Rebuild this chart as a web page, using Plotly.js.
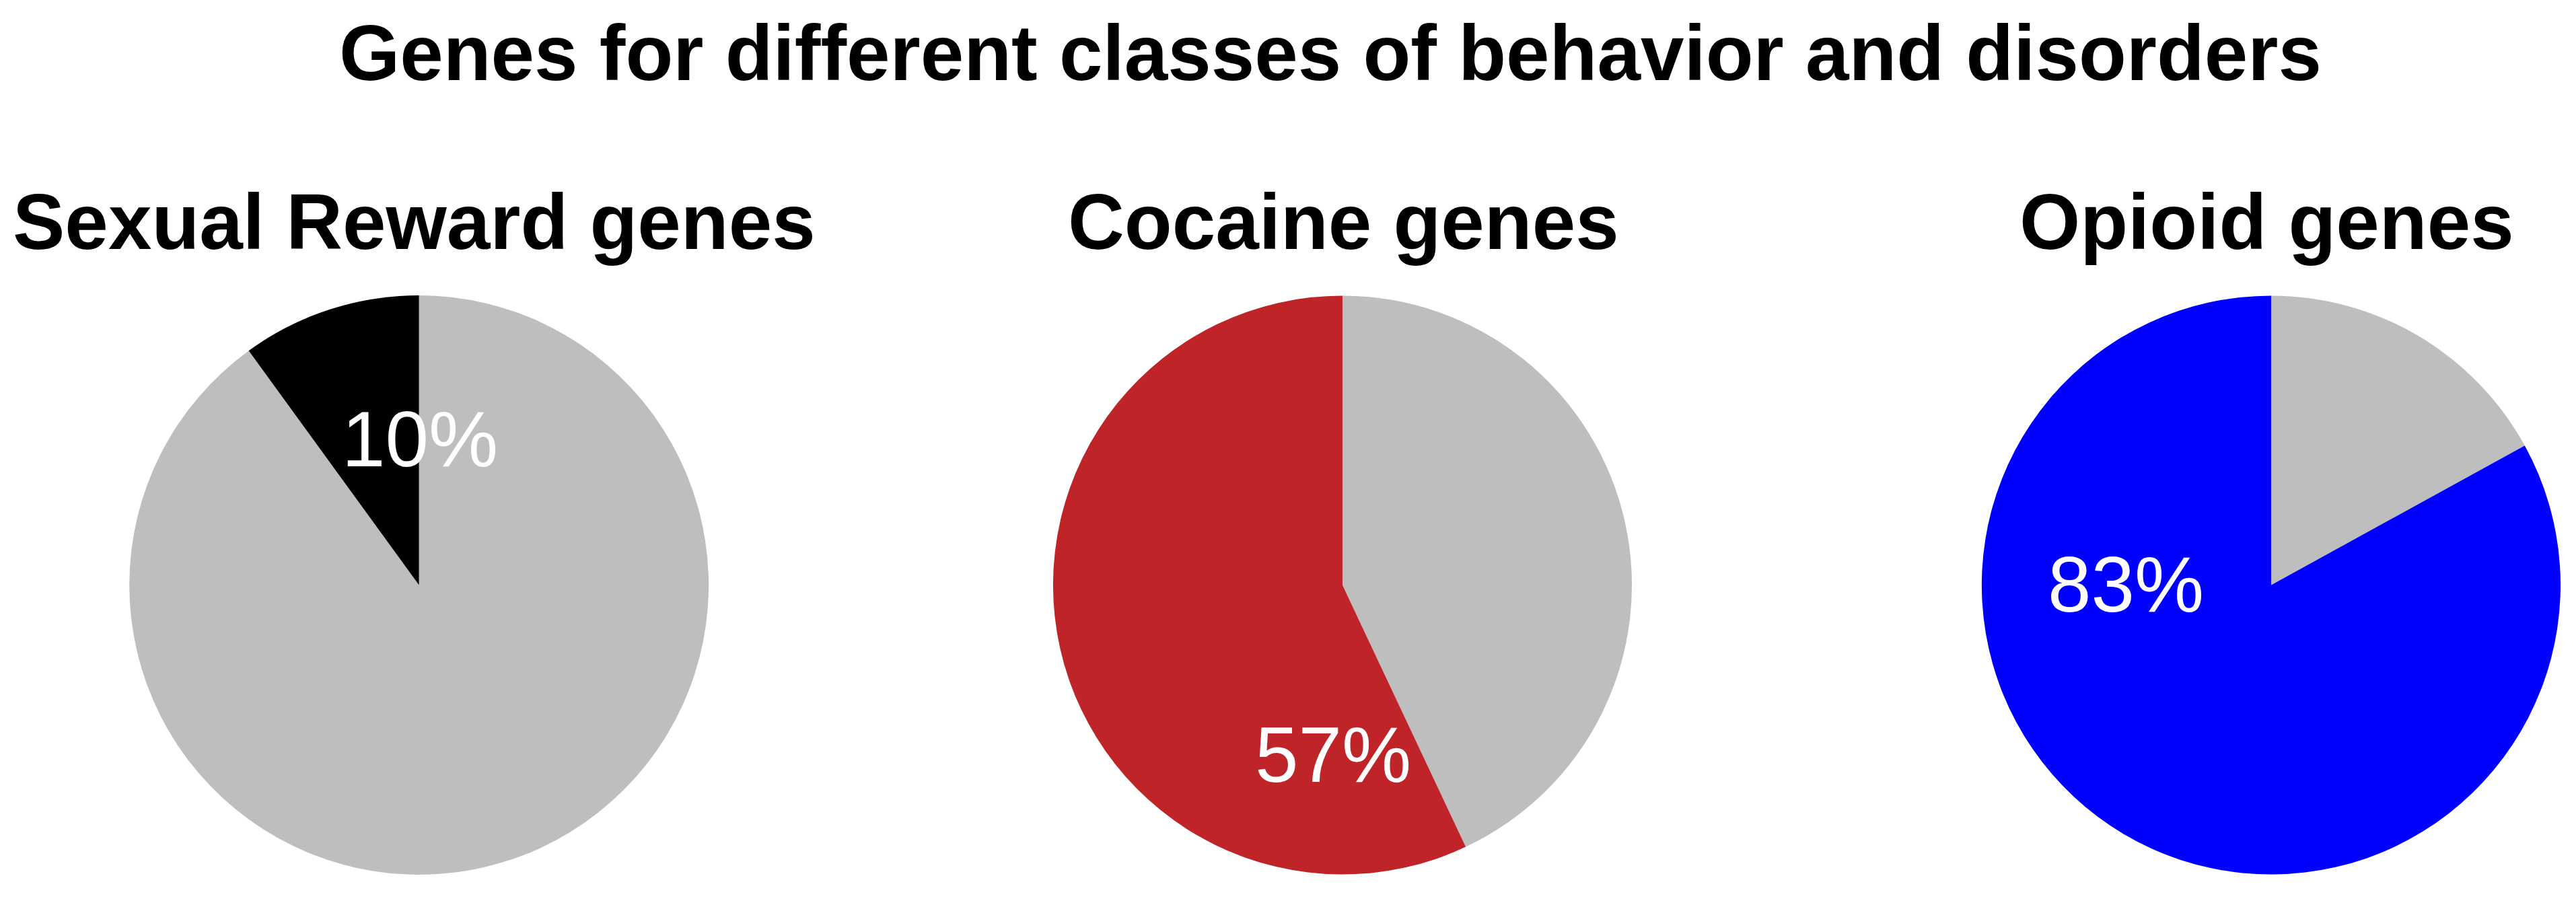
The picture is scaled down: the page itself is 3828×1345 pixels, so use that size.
<!DOCTYPE html>
<html>
<head>
<meta charset="utf-8">
<script src="https://cdn.plot.ly/plotly-3.0.1.min.js"></script>
<style>
  html, body { margin: 0; padding: 0; background: #fff; }
  #genes_pies { width: 3828px; height: 1345px; }
</style>
</head>
<body>
<div id="genes_pies"></div>
<script>
// Genes for different classes of behavior and disorders
var groups = ['Sexual Reward genes', 'Cocaine genes', 'Opioid genes'];
var sharePct = [10, 57, 83];
var restPct = [90, 43, 17];
var hitColors = ['#000000', '#BE2428', '#0000FF'];
var restColor = '#BEBEBE';

// where each pie sits on the page (paper fractions)
var pieX = [[0.0502, 0.2751], [0.4088, 0.6335], [0.7693, 0.9940]];
var pieY = [0.0335, 0.6736];
var subX = [0.1607, 0.5216, 0.8800];
var labelPos = [[0.1630, 0.5145], [0.5176, 0.1658], [0.8252, 0.3540]];

var data = [];
var annotations = [];

for (var i = 0; i < groups.length; i++) {
  // rest first, clockwise from 12 o'clock, so the class slice ends at the top on the left
  data.push({
    type: 'pie',
    labels: ['other', 'in class'],
    values: [restPct[i], sharePct[i]],
    sort: false,
    direction: 'clockwise',
    rotation: 0,
    textinfo: 'none',
    hoverinfo: 'label+value',
    marker: {
      colors: [restColor, hitColors[i]],
      line: {width: 0}
    },
    domain: {x: pieX[i], y: pieY},
    showlegend: false
  });

  annotations.push({
    xref: 'paper', yref: 'paper',
    x: subX[i], y: 1 - 330 / 1345,
    xanchor: 'center', yanchor: 'middle',
    text: '<b>' + groups[i] + '</b>',
    showarrow: false,
    font: {family: 'Liberation Sans, Arial, sans-serif', size: 116, color: '#000'}
  });

  annotations.push({
    xref: 'paper', yref: 'paper',
    x: labelPos[i][0], y: labelPos[i][1],
    xanchor: 'center', yanchor: 'middle',
    text: sharePct[i] + '%',
    showarrow: false,
    font: {family: 'Liberation Sans, Arial, sans-serif', size: 116, color: '#fff'}
  });
}

var layout = {
  width: 3828,
  height: 1345,
  margin: {l: 0, r: 0, t: 0, b: 0},
  paper_bgcolor: '#fff',
  title: {
    text: '<b>Genes for different classes of behavior and disorders</b>',
    x: 1977 / 3828,
    xanchor: 'center',
    y: 1 - 78 / 1345,
    yanchor: 'middle',
    font: {family: 'Liberation Sans, Arial, sans-serif', size: 116, color: '#000'}
  },
  annotations: annotations
};

Plotly.newPlot('genes_pies', data, layout, {staticPlot: true});
</script>
</body>
</html>
